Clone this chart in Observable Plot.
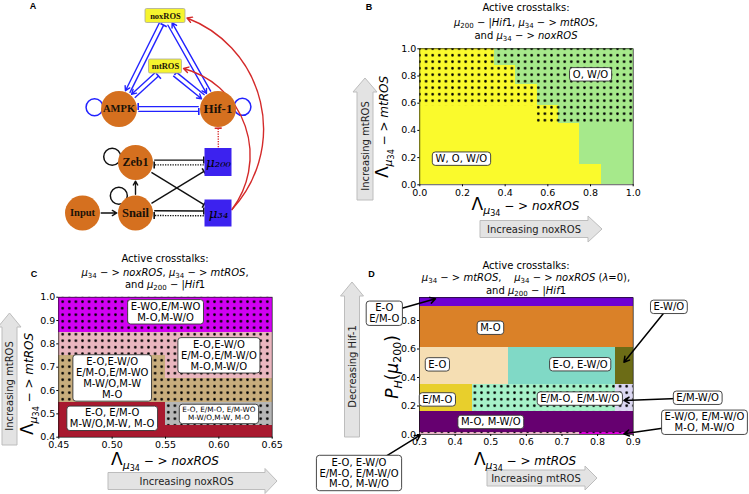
<!DOCTYPE html>
<html><head><meta charset="utf-8">
<script src="https://cdn.jsdelivr.net/npm/d3@7"></script>
<script src="https://cdn.jsdelivr.net/npm/@observablehq/plot@0.6"></script>
<style>
body{margin:0;background:#fff;}
#fig{position:relative;width:749px;height:494px;overflow:hidden;font-family:"DejaVu Sans",sans-serif;color:#000;background:#fff;}
.abs{position:absolute;white-space:nowrap;}
.t{transform:translateX(-50%);}
.t sub,.al sub{font-size:0.7em;vertical-align:baseline;position:relative;top:0.3em;line-height:0;}
.al{transform:translate(-50%,-50%);font-size:12px;line-height:20px;}
.rot{transform:translate(-50%,-50%) rotate(-90deg);}
.al .L{font-size:17px;}
.al .s1{font-size:11px;position:relative;top:4px;}
.al .s2{font-size:8px;position:relative;top:2px;}
.al .P{font-size:17px;}
.al .s2b{font-size:11px;position:relative;top:3px;}
</style>
</head><body>
<svg width="0" height="0" style="position:absolute;left:0;top:0">
<defs><pattern id="dots" patternUnits="userSpaceOnUse" width="6.6" height="6.5"><circle cx="3.3" cy="3.25" r="1.35" fill="#000"/></pattern></defs></svg>
<div id="fig"></div>
<script>
// ---------------- DATA ----------------
// Panel A: network
const nodeName  = ["noxROS","mtROS","AMPK","Hif-1","Zeb1","μ200","Input","Snail","μ34"];
const nodeLabel = ["noxROS","mtROS","AMPK","Hif-1","Zeb1","μ₂₀₀","Input","Snail","μ₃₄"];
const nodeKind  = ["ros","ros","core","core","emt","mir","emt","emt","mir"];
const nodeX     = [165, 165, 118.5, 217.5, 135, 218, 82, 135, 218];
const nodeY     = [15.5, 66, 108.5, 108.5, 162, 162, 212.5, 212.5, 213];
const edgeFrom   = ["noxROS","AMPK","noxROS","Hif-1","mtROS","AMPK","mtROS","Hif-1","Hif-1","AMPK","μ200","Zeb1","μ200","Snail","μ34","Snail","Zeb1","Snail","Input"];
const edgeTo     = ["AMPK","noxROS","Hif-1","noxROS","AMPK","mtROS","Hif-1","mtROS","AMPK","Hif-1","Hif-1","μ200","Zeb1","μ34","Snail","μ200","μ34","Zeb1","Snail"];
const edgeSign   = ["act","inh","act","act","act","inh","act","inh","inh","inh","inh","inh","inh","inh","inh","inh","inh","act","act"];
const edgeModule = ["metab","metab","metab","metab","metab","metab","metab","metab","metab","metab","cross","emt","emt","emt","emt","emt","emt","emt","emt"];
const edgeDotted = [0,0,0,0,0,0,0,0,0,0,1,0,1,0,1,0,0,0,0];
const crossFrom  = ["μ34","μ34"];
const crossTo    = ["noxROS","mtROS"];
const loopNode   = ["AMPK","Hif-1","Zeb1","Snail"];
const loopModule = ["metab","metab","emt","emt"];
const loopAngle  = [184, -5, 194, 226];

// Panel B
const bStates  = ["W, O, W/O", "O, W/O"];
const bColors  = ["#fafa2c", "#a6e98b"];
const bRowY1   = [0.00, 0.15, 0.45, 0.58, 0.74, 0.88];
const bRowY2   = [0.15, 0.45, 0.58, 0.74, 0.88, 1.00];
const bEdgeX   = [0.85, 0.75, 0.65, 0.55, 0.45, 0.35];
const bDotX1 = [0.55, 0.00], bDotX2 = [1.00, 1.00], bDotY1 = [0.45, 0.58], bDotY2 = [0.58, 1.00];
const bLabText = ["W, O, W/O", "O, W/O"];
const bLabX = [0.195, 0.80], bLabY = [0.19, 0.81];
const bTicks = [0, 0.2, 0.4, 0.6, 0.8, 1.0];

// Panel C
const cStates = ["E-WO,E/M-WO,M-O,M-W/O", "E-O,E-W/O,E/M-O,E/M-W/O,M-O,M-W/O", "E-O,E-W/O,E/M-O,E/M-WO,M-W/O,M-W,M-O", "E-O,E/M-O,M-W/O,M-W,M-O", "E-O,E/M-O,E/M-WO,M-W/O,M-W,M-O"];
const cColors = ["#d100f2", "#eab6bf", "#c8ad7d", "#a8192f", "#b6b6b6"];
const cRegX1 = [0.45, 0.45, 0.55, 0.45, 0.55, 0.45, 0.55, 0.55];
const cRegX2 = [0.65, 0.65, 0.65, 0.55, 0.65, 0.55, 0.65, 0.65];
const cRegY1 = [0.85, 0.75, 0.65, 0.55, 0.55, 0.40, 0.45, 0.40];
const cRegY2 = [1.00, 0.85, 0.75, 0.75, 0.65, 0.55, 0.55, 0.45];
const cRegState  = [0, 1, 1, 2, 2, 3, 4, 3];
const cRegDotted = [1, 1, 1, 1, 1, 0, 1, 0];
const cLabText = ["E-WO,E/M-WO\nM-O,M-W/O", "E-O,E-W/O\nE/M-O,E/M-W/O\nM-O,M-W/O", "E-O,E-W/O\nE/M-O,E/M-WO\nM-W/O,M-W\nM-O", "E-O, E/M-O\nM-W/O,M-W, M-O"];
const cLabX = [0.55, 0.60, 0.50, 0.50], cLabY = [0.9375, 0.751, 0.654, 0.481];
const cSmallText = ["E-O, E/M-O, E/M-WO\nM-W/O,M-W, M-O"], cSmallX = [0.60], cSmallY = [0.50];
const cXTicks = [0.45, 0.50, 0.55, 0.60, 0.65];
const cYTicks = [0.4, 0.5, 0.6, 0.7, 0.8, 0.9, 1.0];

// Panel D
const dStates = ["E-O, E/M-O", "M-O", "E-O", "E-O, E-W/O", "E-W/O", "E/M-O", "E/M-O, E/M-W/O", "E/M-W/O", "M-O, M-W/O", "E-O, E-W/O, E/M-O, E/M-W/O, M-O, M-W/O", "E-W/O, E/M-W/O, M-O, M-W/O"];
const dColors = ["#6e00d2", "#da8128", "#f5deb3", "#80d9c6", "#6c6c16", "#e8cf2c", "#a6f2c9", "#dcd8f2", "#660070", "#e9b4c8", "#dc00dc"];
const dRegX1 = [0.30, 0.30, 0.30, 0.55, 0.85, 0.30, 0.45, 0.85, 0.30, 0.30, 0.75];
const dRegX2 = [0.90, 0.90, 0.55, 0.85, 0.90, 0.45, 0.85, 0.90, 0.90, 0.75, 0.90];
const dRegY1 = [0.900, 0.613, 0.351, 0.351, 0.351, 0.164, 0.164, 0.164, 0.015, 0.000, 0.000];
const dRegY2 = [0.960, 0.900, 0.613, 0.613, 0.613, 0.351, 0.351, 0.351, 0.164, 0.015, 0.015];
const dRegDotted = [0, 0, 0, 0, 0, 0, 1, 1, 0, 1, 1];
const dLabText = ["M-O", "E-O", "E-O, E-W/O", "E/M-O", "E/M-O, E/M-W/O", "M-O, M-W/O"];
const dLabX = [0.499, 0.35, 0.751, 0.35, 0.75, 0.50];
const dLabY = [0.747, 0.49, 0.491, 0.244, 0.25, 0.086];
const dAnnText = ["E-O\nE/M-O", "E-W/O", "E/M-W/O", "E-W/O, E/M-W/O\nM-O, M-W/O", "E-O, E-W/O\nE/M-O, E/M-W/O\nM-O, M-W/O"];
const dAnnX  = [0.201, 1.000, 1.081, 1.100, 0.130];
const dAnnY  = [0.851, 0.896, 0.258, 0.086, -0.270];
const dAnnTX = [0.345, 0.874, 0.874, 0.874, 0.302];
const dAnnTY = [0.952, 0.507, 0.239, 0.005, -0.005];
const dXTicks = [0.3, 0.4, 0.5, 0.6, 0.7, 0.8, 0.9];
const dYTicks = [0.0, 0.2, 0.4, 0.6, 0.8];

// ---------------- HELPERS ----------------
const fig = document.getElementById("fig");
function addDiv(html, left, top, cls, css) {
  const d = document.createElement("div");
  d.className = "abs " + (cls || "");
  d.innerHTML = html;
  d.style.left = left + "px"; d.style.top = top + "px";
  if (css) d.style.cssText += css;
  fig.appendChild(d); return d;
}
function place(svg, left, top) {
  svg.style.position = "absolute"; svg.style.left = left + "px"; svg.style.top = top + "px";
  svg.style.maxWidth = "none";
  fig.appendChild(svg);
}
function boxify(svg, padX, padY) {
  d3.select(svg).selectAll('g[aria-label="text"] text').each(function () {
    const b = this.getBBox();
    d3.select(this.parentNode).insert("rect", () => this)
      .attr("transform", this.getAttribute("transform"))
      .attr("x", b.x - padX).attr("y", b.y - padY)
      .attr("width", b.width + 2 * padX).attr("height", b.height + 2 * padY)
      .attr("rx", 3).attr("fill", "#fff").attr("stroke", "#333").attr("stroke-width", 0.9);
  });
}
function axes(xt, yt, xf, yf) {
  return [
    Plot.frame({stroke: "#111", strokeWidth: 0.7}),
    Plot.axisX({ticks: xt, tickFormat: d3.format(xf), tickSize: 2, tickPadding: 2.2, label: null}),
    Plot.axisY({ticks: yt, tickFormat: d3.format(yf), tickSize: 2, tickPadding: 1.5, label: null})
  ];
}
const baseStyle = {background: "transparent", overflow: "visible", fontFamily: "DejaVu Sans", fontSize: "9.5px", color: "#000"};

// ---------------- DECOR (block arrows, panel letters) ----------------
const decor = d3.select(fig).append("svg").attr("width", 749).attr("height", 494)
  .style("position", "absolute").style("left", 0).style("top", 0);
function hArrow(x1, x2, cy, bh, hh, hl, text) {
  const xb = x2 - hl;
  decor.append("path").attr("d", `M${x1},${cy - bh / 2}L${xb},${cy - bh / 2}L${xb},${cy - hh / 2}L${x2},${cy}L${xb},${cy + hh / 2}L${xb},${cy + bh / 2}L${x1},${cy + bh / 2}Z`)
    .attr("fill", "#e3e3e3").attr("stroke", "#bdbdbd");
  decor.append("text").attr("x", (x1 + xb) / 2).attr("y", cy).attr("dy", "0.35em").attr("text-anchor", "middle")
    .attr("font-size", 10).attr("fill", "#222").text(text);
}
function vArrow(cx, yb, yt, bw, hw, hl, text) {
  const ya = yt + hl;
  decor.append("path").attr("d", `M${cx - bw / 2},${yb}L${cx - bw / 2},${ya}L${cx - hw / 2},${ya}L${cx},${yt}L${cx + hw / 2},${ya}L${cx + bw / 2},${ya}L${cx + bw / 2},${yb}Z`)
    .attr("fill", "#e3e3e3").attr("stroke", "#bdbdbd");
  decor.append("text").attr("transform", `translate(${cx},${(yb + ya) / 2}) rotate(-90)`).attr("dy", "0.35em")
    .attr("text-anchor", "middle").attr("font-size", 10).attr("fill", "#222").text(text);
}
hArrow(480, 602, 229, 17, 26, 14, "Increasing noxROS");
vArrow(365, 200, 78, 16, 24, 14, "Increasing mtROS");
vArrow(9.5, 445, 313, 15, 23, 14, "Increasing mtROS");
hArrow(108, 277, 481, 17, 25, 12, "Increasing noxROS");
vArrow(352, 437, 282, 15, 23, 14, "Decreasing Hif-1");
hArrow(487, 597, 478, 16, 24, 12, "Increasing mtROS");
[["A", 33, 6], ["B", 369, 7], ["C", 34, 273.5], ["D", 371.5, 273.5]].forEach(([t, x, y]) =>
  decor.append("text").attr("x", x).attr("y", y).attr("dy", "0.35em").attr("text-anchor", "middle")
    .attr("font-size", 9).attr("font-weight", "bold").attr("font-family", "Liberation Sans").text(t));

// ---------------- PANEL A ----------------
const nodes = nodeName.map((name, i) => ({name, label: nodeLabel[i], kind: nodeKind[i], x: nodeX[i], y: nodeY[i]}));
const byName = Object.fromEntries(nodes.map(n => [n.name, n]));
const RAD = {core: 18, emt: 17.5};
const HALF = {"noxROS": [20, 7], "mtROS": [16.5, 7], "μ200": [13.5, 14], "μ34": [13.5, 13.5]};
const FS = {"noxROS": 8.5, "mtROS": 8.5, "AMPK": 10.5, "Hif-1": 13, "Zeb1": 12, "Input": 10.5, "Snail": 12.5, "μ200": 13.5, "μ34": 13.5};
function reach(n, ux, uy) {
  if (RAD[n.kind]) return RAD[n.kind];
  const [hw, hh] = HALF[n.name];
  return Math.min(ux ? hw / Math.abs(ux) : 1e9, uy ? hh / Math.abs(uy) : 1e9);
}
const pk = (a, b) => [a, b].sort().join("|");
const pairCount = {};
edgeFrom.forEach((f, i) => { const k = pk(f, edgeTo[i]); pairCount[k] = (pairCount[k] || 0) + 1; });
const segs = edgeFrom.map((f, i) => {
  const a = byName[f], b = byName[edgeTo[i]];
  const dx = b.x - a.x, dy = b.y - a.y, L = Math.hypot(dx, dy), ux = dx / L, uy = dy / L, nx = -uy, ny = ux;
  const off = pairCount[pk(f, edgeTo[i])] > 1 ? (edgeModule[i] === "metab" ? 2.4 : -2.4) : 0;
  const s = reach(a, ux, uy) + 1.2, e = reach(b, ux, uy) + 1.2;
  return {sign: edgeSign[i], module: edgeModule[i], dotted: !!edgeDotted[i],
    sx: a.x + ux * s + nx * off, sy: a.y + uy * s + ny * off,
    ex: b.x - ux * e + nx * off, ey: b.y - uy * e + ny * off, nx, ny};
});
const COL = {metab: "#2222ff", cross: "#d42a2a", emt: "#111"};
function edgeMarks(mod) {
  const list = segs.filter(s => s.module === mod), c = COL[mod];
  const inh = list.filter(s => s.sign === "inh");
  return [
    Plot.arrow(list.filter(s => s.sign === "act"), {x1: "sx", y1: "sy", x2: "ex", y2: "ey", stroke: c, strokeWidth: 1.4, headLength: 5.5}),
    Plot.link(inh.filter(s => !s.dotted), {x1: "sx", y1: "sy", x2: "ex", y2: "ey", stroke: c, strokeWidth: 1.4}),
    Plot.link(inh.filter(s => s.dotted), {x1: "sx", y1: "sy", x2: "ex", y2: "ey", stroke: c, strokeWidth: 1.4, strokeDasharray: "1.3,1.2"}),
    Plot.link(inh, {x1: d => d.ex + d.nx * 3.5, y1: d => d.ey + d.ny * 3.5, x2: d => d.ex - d.nx * 3.5, y2: d => d.ey - d.ny * 3.5, stroke: c, strokeWidth: 1.6})
  ];
}
const loops = loopNode.map((n, i) => {
  const nd = byName[n], a = loopAngle[i] * Math.PI / 180, r = RAD[nd.kind] + 6.5;
  return {module: loopModule[i], x: nd.x + r * Math.cos(a), y: nd.y + r * Math.sin(a)};
});
const curves = crossFrom.map((f, i) => {
  const a = byName[f], b = byName[crossTo[i]];
  return {x1: a.x + HALF[f][0], y1: a.y - 4, x2: b.x + HALF[b.name][0] + 1.5, y2: b.y + 2};
});
const plotA = Plot.plot({
  width: 270, height: 240, margin: 0,
  x: {domain: [0, 270], range: [0, 270], axis: null},
  y: {domain: [0, 240], range: [0, 240], axis: null},
  style: {...baseStyle, fontFamily: "Liberation Serif"},
  marks: [
    Plot.dot(loops.filter(l => l.module === "metab"), {x: "x", y: "y", r: 8.5, stroke: COL.metab, strokeWidth: 1.5, fill: "none"}),
    Plot.dot(loops.filter(l => l.module === "emt"), {x: "x", y: "y", r: 8.5, stroke: COL.emt, strokeWidth: 1.5, fill: "none"}),
    ...edgeMarks("metab"), ...edgeMarks("emt"), ...edgeMarks("cross"),
    Plot.arrow(curves, {x1: "x1", y1: "y1", x2: "x2", y2: "y2", bend: -56, stroke: COL.cross, strokeWidth: 1.4, headLength: 6}),
    Plot.dot(nodes.filter(n => n.kind === "core"), {x: "x", y: "y", r: RAD.core, fill: "#d5701f"}),
    Plot.dot(nodes.filter(n => n.kind === "emt"), {x: "x", y: "y", r: RAD.emt, fill: "#d5701f"}),
    Plot.rect(nodes.filter(n => n.kind === "ros"), {x1: d => d.x - HALF[d.name][0], x2: d => d.x + HALF[d.name][0], y1: d => d.y - HALF[d.name][1], y2: d => d.y + HALF[d.name][1], fill: "#f6f42e", stroke: "#aaa89a", strokeWidth: 0.8, rx: 1.5}),
    Plot.rect(nodes.filter(n => n.kind === "mir"), {x1: d => d.x - HALF[d.name][0], x2: d => d.x + HALF[d.name][0], y1: d => d.y - HALF[d.name][1], y2: d => d.y + HALF[d.name][1], fill: "#3c22ef"}),
    Plot.text(nodes.filter(n => n.kind !== "mir"), {x: "x", y: "y", text: "label", fontSize: d => FS[d.name], fontWeight: "bold", fill: "#1a1208"}),
    Plot.text(nodes.filter(n => n.kind === "mir"), {x: "x", y: "y", text: "label", fontSize: d => FS[d.name], fontStyle: "italic", fontFamily: "DejaVu Serif", fill: "#000"})
  ]
});
place(plotA, 0, 0);

// ---------------- PANEL B ----------------
const bRects = [];
bRowY1.forEach((y1, i) => {
  bRects.push({x1: 0, x2: bEdgeX[i], y1, y2: bRowY2[i], state: bStates[0]});
  bRects.push({x1: bEdgeX[i], x2: 1, y1, y2: bRowY2[i], state: bStates[1]});
});
const bDots = bDotX1.map((x1, i) => ({x1, x2: bDotX2[i], y1: bDotY1[i], y2: bDotY2[i]}));
const bLabs = bLabText.map((text, i) => ({text, x: bLabX[i], y: bLabY[i]}));
const plotB = Plot.plot({
  width: 280, height: 250, marginLeft: 49.3, marginRight: 17.3, marginTop: 48.3, marginBottom: 65.7,
  x: {domain: [0, 1]}, y: {domain: [0, 1]},
  color: {domain: bStates, range: bColors},
  style: baseStyle,
  marks: [
    Plot.rect(bRects, {x1: "x1", x2: "x2", y1: "y1", y2: "y2", fill: "state", shapeRendering: "crispEdges"}),
    Plot.rect(bDots, {x1: "x1", x2: "x2", y1: "y1", y2: "y2", fill: "url(#dots)"}),
    ...axes(bTicks, bTicks, ".1f", ".1f"),
    Plot.text(bLabs, {x: "x", y: "y", text: "text", fontSize: 10})
  ]
});
place(plotB, 370, 0);
boxify(plotB, 3.3, 1.2);

// ---------------- PANEL C ----------------
const cRegs = cRegX1.map((x1, i) => ({x1, x2: cRegX2[i], y1: cRegY1[i], y2: cRegY2[i], state: cStates[cRegState[i]], dotted: cRegDotted[i]}));
const cLabs = cLabText.map((text, i) => ({text, x: cLabX[i], y: cLabY[i]}));
const cSmall = cSmallText.map((text, i) => ({text, x: cSmallX[i], y: cSmallY[i]}));
const plotC = Plot.plot({
  width: 340, height: 254, marginLeft: 58.3, marginRight: 68.3, marginTop: 56.7, marginBottom: 57.3,
  x: {domain: [0.45, 0.65]}, y: {domain: [0.4, 1.0]},
  color: {domain: cStates, range: cColors},
  style: baseStyle,
  marks: [
    Plot.rect(cRegs, {x1: "x1", x2: "x2", y1: "y1", y2: "y2", fill: "state", shapeRendering: "crispEdges"}),
    Plot.rect(cRegs.filter(d => d.dotted), {x1: "x1", x2: "x2", y1: "y1", y2: "y2", fill: "url(#dots)"}),
    ...axes(cXTicks, cYTicks, ".2f", ".1f"),
    Plot.text(cLabs, {x: "x", y: "y", text: "text", fontSize: 10, lineHeight: 1.1}),
    Plot.text(cSmall, {x: "x", y: "y", text: "text", fontSize: 7.3, lineHeight: 1.1})
  ]
});
place(plotC, 0, 240);
boxify(plotC, 3, 1.2);

// ---------------- PANEL D ----------------
const dRegs = dRegX1.map((x1, i) => ({x1, x2: dRegX2[i], y1: dRegY1[i], y2: dRegY2[i], state: dStates[i], dotted: dRegDotted[i]}));
const dLabs = dLabText.map((text, i) => ({text, x: dLabX[i], y: dLabY[i]}));
const dAnn = dAnnText.map((text, i) => ({text, x: dAnnX[i], y: dAnnY[i], tx: dAnnTX[i], ty: dAnnTY[i]}));
const plotD = Plot.plot({
  width: 449, height: 254, marginLeft: 119, marginRight: 116.3, marginTop: 57.2, marginBottom: 60,
  x: {domain: [0.3, 0.9]}, y: {domain: [0, 0.96]},
  color: {domain: dStates, range: dColors},
  style: baseStyle,
  marks: [
    Plot.rect(dRegs, {x1: "x1", x2: "x2", y1: "y1", y2: "y2", fill: "state", shapeRendering: "crispEdges"}),
    Plot.rect(dRegs.filter(d => d.dotted), {x1: "x1", x2: "x2", y1: "y1", y2: "y2", fill: "url(#dots)"}),
    ...axes(dXTicks, dYTicks, ".1f", ".1f"),
    Plot.text(dLabs, {x: "x", y: "y", text: "text", fontSize: 10}),
    Plot.arrow(dAnn, {x1: "x", y1: "y", x2: "tx", y2: "ty", stroke: "#000", strokeWidth: 1.5, headLength: 6}),
    Plot.text(dAnn, {x: "x", y: "y", text: "text", fontSize: 10, lineHeight: 1.1})
  ]
});
place(plotD, 300, 240);
boxify(plotD, 3, 1.2);

// ---------------- TITLES & AXIS LABELS ----------------
const mu = s => `<i>μ</i><sub>${s}</sub>`;
function title(lines, cx, tops) {
  lines.forEach((h, i) => addDiv(h, cx, tops[i], "t", "font-size:10px;line-height:10px"));
}
title(["Active crosstalks:", `${mu(200)} − |<i>Hif</i>1, ${mu(34)} − &gt; <i>mtROS</i>,`, `and ${mu(34)} − &gt; <i>noxROS</i>`], 526, [3.2, 17.5, 30.8]);
title(["Active crosstalks:", `${mu(34)} − &gt; <i>noxROS</i>, ${mu(34)} − &gt; <i>mtROS</i>,`, `and ${mu(200)} − |<i>Hif</i>1`], 165, [254.3, 267.6, 279.9]);
title(["Active crosstalks:", `${mu(34)} − &gt; <i>mtROS</i>,&nbsp;&nbsp;&nbsp; ${mu(34)} − &gt; <i>noxROS</i> (<i>λ</i>=0),`, `and ${mu(200)} − |<i>Hif</i>1`], 526, [260.8, 273.2, 285.5]);

const LAM = rest => `<span class="L">Λ</span><span class="s1"><i>μ</i><span class="s2">34</span></span> − &gt; <i>${rest}</i>`;
addDiv(LAM("noxROS"), 525.5, 206, "al");
addDiv(LAM("mtROS"), 384, 127, "al rot");
addDiv(LAM("noxROS"), 165, 461, "al");
addDiv(LAM("mtROS"), 29, 384, "al rot");
addDiv(LAM("mtROS"), 525, 461, "al");
addDiv(`<i class="P">P</i><span class="s1"><i>H</i></span><span class="P">(<i>μ</i><span class="s2b">200</span>)</span>`, 393, 367, "al rot");
</script>
</body></html>
